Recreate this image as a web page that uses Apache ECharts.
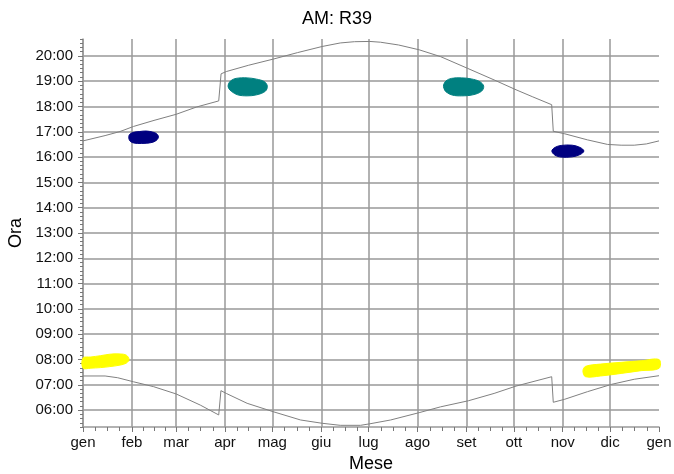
<!DOCTYPE html>
<html><head><meta charset="utf-8">
<script src="https://cdn.jsdelivr.net/npm/echarts@6/dist/echarts.min.js"></script>
<style>html,body{margin:0;padding:0;background:#fff}#c{width:674px;height:474px}</style>
</head><body><div id="c"></div>
<script>
// ---- data ----
const monthNames = ['gen','feb','mar','apr','mag','giu','lug','ago','set','ott','nov','dic','gen'];
const monthStartDays = [0,31,59,90,120,151,181,212,243,273,304,334,365];
const hourTicks = [6,7,8,9,10,11,12,13,14,15,16,17,18,19,20];

// sunset (upper grey line) [dayOfYear, hour]
const sunsetLine = [
  [0,16.64],[14,16.85],[23.5,17.01],[32,17.21],[45,17.45],[59,17.69],[72,17.98],[86,18.22],
  [87.5,19.29],[90.8,19.38],[105,19.63],[120.4,19.87],[136,20.13],[151.5,20.37],[163,20.51],
  [172,20.56],[181.8,20.57],[188.5,20.54],[200,20.43],[213,20.24],[226.6,19.97],[243.6,19.51],
  [260.5,19.05],[274.4,18.66],[285,18.38],[297,18.07],[298,17.02],[305.3,16.92],[319.7,16.68],
  [332.4,16.50],[341,16.47],[349.3,16.47],[357,16.52],[365,16.64]
];
// sunrise (lower grey line)
const sunriseLine = [
  [0,7.35],[14,7.35],[22,7.28],[32,7.12],[44.6,6.93],[59,6.64],[74.3,6.20],[86,5.81],
  [87.4,6.77],[90.8,6.66],[104,6.27],[120.4,5.94],[137.9,5.61],[151.6,5.48],[163,5.40],
  [175.9,5.40],[181.8,5.46],[194.9,5.61],[213,5.90],[226.6,6.13],[244.2,6.37],[260.5,6.66],
  [274.4,6.95],[297,7.32],[298,6.31],[305.3,6.43],[319.7,6.73],[335,7.02],[349.3,7.22],[365,7.36]
];
// glare areas (outline of each blob) [dayOfYear, hour]
const blobFebNavy = [
  [29.2,16.86],[31.5,16.97],[36,17.01],[40,17.03],[44,16.99],[46.5,16.93],[47.8,16.8],
  [46.5,16.66],[43,16.57],[37,16.54],[32,16.56],[29.5,16.66]
];
const blobAprTeal = [
  [92,18.85],[93.5,19.01],[97,19.11],[104,19.13],[110,19.08],[115,18.98],[116.8,18.8],
  [115.5,18.6],[110,18.46],[104,18.42],[98,18.46],[94,18.6],[92.3,18.72]
];
const blobSetTeal = [
  [228.5,18.85],[230,19.01],[233.5,19.11],[240,19.13],[246,19.09],[251.5,18.98],[253.9,18.8],
  [252.5,18.6],[247,18.46],[240,18.42],[234,18.45],[230,18.58],[228.7,18.72]
];
const blobNovNavy = [
  [297.1,16.24],[299,16.38],[303,16.46],[310,16.47],[315,16.38],[317.4,16.24],
  [315,16.1],[310,16.01],[303,16.0],[299,16.08]
];
const blobGenYellow = [
  [0,8.06],[5,8.1],[11,8.15],[17,8.21],[23.5,8.22],[27.5,8.17],[29.2,8.0],
  [27.5,7.86],[23.5,7.78],[17,7.72],[11,7.68],[5,7.66],[0,7.66]
];
const blobDicYellow = [
  [316.8,7.55],[318.5,7.73],[328,7.82],[341,7.89],[353.7,7.95],[365,8.0],
  [365,7.65],[353.7,7.56],[341,7.45],[328,7.35],[318.5,7.32]
];

// ---- axis helpers (tick positions) ----
const minorDayTicks = [];
for (let i = 0; i < monthStartDays.length - 1; i++) {
  const a = monthStartDays[i], b = monthStartDays[i + 1];
  for (let k = 1; k < 4; k++) minorDayTicks.push(a + (b - a) * k / 4);
}
const yMin = 5 + 1/3, yMax = 20 + 2/3;
const minorHourTicks = [];
for (let m = 5*60 + 20; m <= 20*60 + 40; m += 10) minorHourTicks.push(m / 60);

const FONT = '"Liberation Sans", Arial, sans-serif';
const GRID = '#999';

function blobSeries(points, color) {
  return {
    type: 'custom', coordinateSystem: 'cartesian2d', xAxisIndex: 0, yAxisIndex: 0,
    data: points, silent: true, z: 3,
    renderItem: function (params, api) {
      if (params.dataIndex !== 0) return { type: 'group', children: [] };
      const pts = points.map(p => api.coord(p));
      return { type: 'polygon', shape: { points: pts, smooth: 0.35 },
               style: { fill: color, stroke: color, lineWidth: 1 } };
    }
  };
}

const chart = echarts.init(document.getElementById('c'), null, { renderer: 'canvas' });
chart.setOption({
  animation: false,
  backgroundColor: '#fff',
  title: { text: 'AM: R39', left: 'center', top: 5,
           textStyle: { fontFamily: FONT, fontSize: 18, fontWeight: 'normal', color: '#000' } },
  grid: { left: 83, right: 15, top: 39, bottom: 47, outerBoundsMode: 'none' },
  xAxis: [{
    type: 'value', min: 0, max: 365, position: 'bottom',
    name: 'Mese', nameLocation: 'middle', nameGap: 21,
    nameTextStyle: { fontFamily: FONT, fontSize: 18, color: '#000' },
    axisLine: { show: true, lineStyle: { color: GRID, width: 1.5 } },
    axisTick: { show: true, customValues: monthStartDays, length: 5, lineStyle: { color: '#777', width: 1 } },
    axisLabel: { customValues: monthStartDays, margin: 8, fontFamily: FONT, fontSize: 15, color: '#111',
                 formatter: v => monthNames[monthStartDays.indexOf(Math.round(v))] || '' },
    splitLine: { show: true, showMaxLine: false, lineStyle: { color: GRID, width: 1.5 } }
  }, {
    type: 'value', min: 0, max: 365, position: 'bottom',
    axisLine: { show: false },
    axisTick: { show: true, customValues: minorDayTicks, length: 4, lineStyle: { color: '#777', width: 1 } },
    axisLabel: { show: false },
    splitLine: { show: false }
  }],
  yAxis: [{
    type: 'value', min: yMin, max: yMax, position: 'left',
    name: 'Ora', nameLocation: 'middle', nameGap: 56, nameRotate: 90,
    nameTextStyle: { fontFamily: FONT, fontSize: 18, color: '#000' },
    axisLine: { show: true, lineStyle: { color: GRID, width: 1.5 } },
    axisTick: { show: true, customValues: hourTicks, length: 5, lineStyle: { color: '#777', width: 1 } },
    axisLabel: { customValues: hourTicks, margin: 10, fontFamily: FONT, fontSize: 15, color: '#111',
                 formatter: v => String(Math.round(v)).padStart(2, '0') + ':00' },
    splitLine: { show: true, lineStyle: { color: GRID, width: 1.5 } }
  }, {
    type: 'value', min: yMin, max: yMax, position: 'left',
    axisLine: { show: false },
    axisTick: { show: true, customValues: minorHourTicks, length: 3, lineStyle: { color: '#777', width: 1 } },
    axisLabel: { show: false },
    splitLine: { show: false }
  }],
  series: [
    blobSeries(blobFebNavy, '#000080'),
    blobSeries(blobAprTeal, '#008080'),
    blobSeries(blobSetTeal, '#008080'),
    blobSeries(blobNovNavy, '#000080'),
    blobSeries(blobGenYellow, '#ffff00'),
    blobSeries(blobDicYellow, '#ffff00'),
    { type: 'line', data: sunsetLine, xAxisIndex: 0, yAxisIndex: 0, showSymbol: false, silent: true, z: 4,
      lineStyle: { color: '#808080', width: 1 } },
    { type: 'line', data: sunriseLine, xAxisIndex: 0, yAxisIndex: 0, showSymbol: false, silent: true, z: 4,
      lineStyle: { color: '#808080', width: 1 } }
  ]
});
</script>
</body></html>
